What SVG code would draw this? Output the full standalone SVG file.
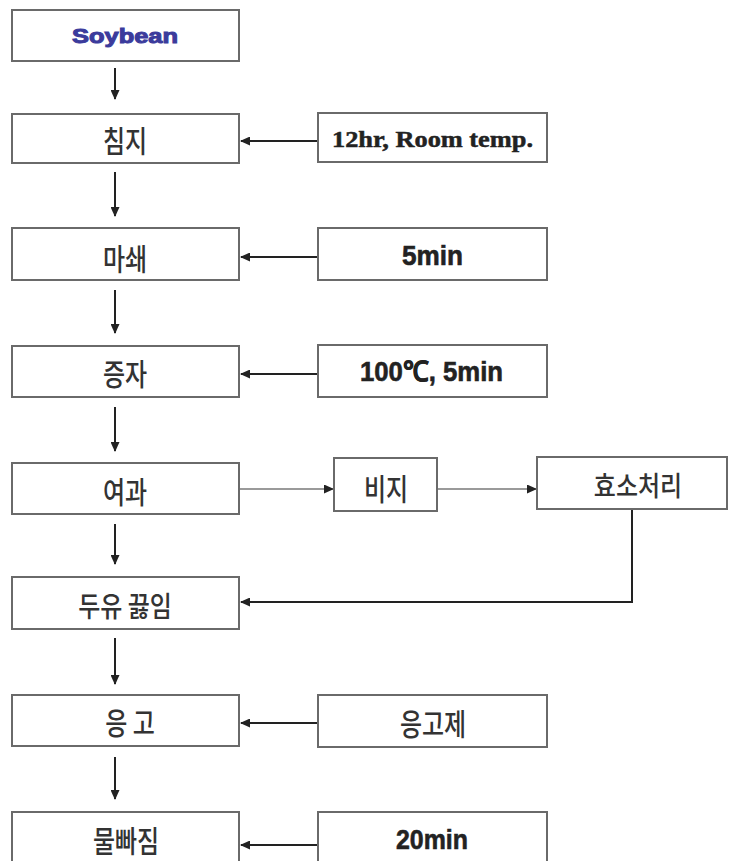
<svg xmlns="http://www.w3.org/2000/svg" width="731" height="861" viewBox="0 0 731 861">
<style>
.box{fill:#fff;stroke:#6a6a6a;stroke-width:2}
.ar{fill:none;stroke:#222;stroke-width:2;marker-end:url(#ah)}
.gr{fill:none;stroke:#9a9a9a;stroke-width:2;marker-end:url(#ah)}
.ko{font-family:"Noto Sans CJK KR","Noto Sans",sans-serif;font-size:24px;font-weight:500;fill:#333;text-anchor:middle;dominant-baseline:central}
.en{font-family:"Liberation Sans",Arial,sans-serif;font-weight:bold;fill:#222;stroke:#222;stroke-width:0.6}
.tm{font-family:"Liberation Serif","Times New Roman",serif;font-weight:bold;fill:#222;stroke:#222;stroke-width:0.5}
.soy{fill:#3b3b9c;stroke:#3b3b9c;stroke-width:1}
</style>
<defs>
<marker id="ah" markerWidth="10" markerHeight="9" refX="9" refY="4.5" orient="auto" markerUnits="userSpaceOnUse">
<path d="M0,0 L10,4.5 L0,9 Z" fill="#222"/>
</marker>
</defs>
<rect width="731" height="861" fill="#fff"/>
<g id="connectors">
<line class="ar" x1="115" y1="68" x2="115" y2="99"/>
<line class="ar" x1="115" y1="172" x2="115" y2="216"/>
<line class="ar" x1="115" y1="290" x2="115" y2="333"/>
<line class="ar" x1="115" y1="407" x2="115" y2="451"/>
<line class="ar" x1="115" y1="524" x2="115" y2="564"/>
<line class="ar" x1="115" y1="638" x2="115" y2="684"/>
<line class="ar" x1="115" y1="757" x2="115" y2="799"/>
<line class="ar" x1="318" y1="141" x2="241" y2="141"/>
<line class="ar" x1="318" y1="257" x2="241" y2="257"/>
<line class="ar" x1="318" y1="374" x2="241" y2="374"/>
<line class="ar" x1="318" y1="723" x2="241" y2="723"/>
<line class="ar" x1="318" y1="845" x2="241" y2="845"/>
<line class="gr" x1="240" y1="489" x2="333" y2="489"/>
<line class="gr" x1="438" y1="489" x2="536" y2="489"/>
<polyline class="ar" points="632,509 632,602 241,602"/>
</g>
<g id="soybean"><rect class="box" x="12" y="10" width="227" height="51"/>
<text class="en soy" x="72" y="43" font-size="20" textLength="106" lengthAdjust="spacingAndGlyphs">Soybean</text></g>
<g id="chimji"><rect class="box" x="12" y="114" width="227" height="49"/>
<text class="ko" transform="translate(125,139) scale(1,1.25)">침지</text></g>
<g id="masoe"><rect class="box" x="12" y="228" width="227" height="52"/>
<text class="ko" transform="translate(125,257) scale(1,1.25)">마쇄</text></g>
<g id="jeungja"><rect class="box" x="12" y="346" width="227" height="51"/>
<text class="ko" transform="translate(125,372) scale(1,1.25)">증자</text></g>
<g id="yeogwa"><rect class="box" x="12" y="463" width="227" height="51"/>
<text class="ko" transform="translate(125,490) scale(1,1.25)">여과</text></g>
<g id="duyu"><rect class="box" x="12" y="577" width="227" height="52"/>
<text class="ko" transform="translate(125,605) scale(1,1.2)">두유 끓임</text></g>
<g id="eunggo"><rect class="box" x="12" y="695" width="227" height="51"/>
<text class="ko" transform="translate(130,721) scale(1,1.25)">응 고</text></g>
<g id="mulppajim"><rect class="box" x="12" y="812" width="227" height="52"/>
<text class="ko" transform="translate(126,839) scale(1,1.25)">물빠짐</text></g>
<g id="cond1"><rect class="box" x="318" y="113" width="229" height="49"/>
<text class="tm" x="332" y="147" font-size="24" textLength="201" lengthAdjust="spacingAndGlyphs">12hr, Room temp.</text></g>
<g id="cond2"><rect class="box" x="318" y="228" width="229" height="52"/>
<text class="en" x="402" y="265" font-size="28" textLength="61" lengthAdjust="spacingAndGlyphs">5min</text></g>
<g id="cond3"><rect class="box" x="318" y="345" width="229" height="52"/>
<text class="en" x="360" y="381" font-size="28" textLength="143" lengthAdjust="spacingAndGlyphs">100℃, 5min</text></g>
<g id="biji"><rect class="box" x="334" y="458" width="103" height="53"/>
<text class="ko" transform="translate(386,487) scale(1,1.25)">비지</text></g>
<g id="hyoso"><rect class="box" x="537" y="457" width="190" height="52"/>
<text class="ko" transform="translate(638,484) scale(1,1.15)">효소처리</text></g>
<g id="coagulant"><rect class="box" x="318" y="695" width="229" height="52"/>
<text class="ko" transform="translate(433,722) scale(1,1.25)">응고제</text></g>
<g id="cond4"><rect class="box" x="318" y="812" width="229" height="52"/>
<text class="en" x="396" y="849" font-size="28" textLength="72" lengthAdjust="spacingAndGlyphs">20min</text></g>
</svg>
